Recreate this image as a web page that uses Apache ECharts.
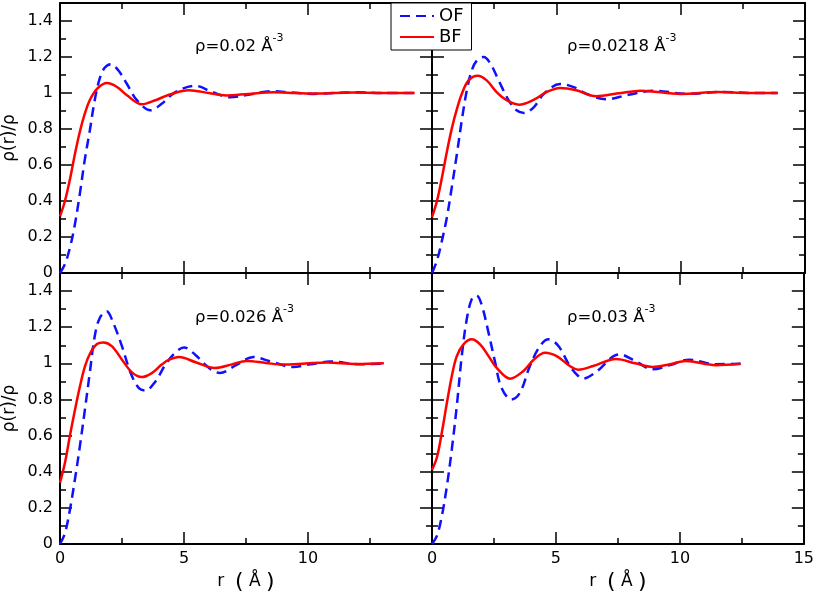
<!DOCTYPE html>
<html>
<head>
<meta charset="utf-8">
<script src="https://cdn.jsdelivr.net/npm/echarts@6/dist/echarts.min.js"></script>
<style>
html,body{margin:0;padding:0;background:#fff;}
#c{width:817px;height:599px;}
</style>
</head>
<body>
<div id="c"></div>
<script>
// ---- data (r in Å, rho(r)/rho) ----
// panel 1: rho = 0.02
const tlOF_r = [0, 0.2, 0.4, 0.6, 0.8, 1.0, 1.2, 1.4, 1.6, 1.8, 2.05, 2.35, 2.7, 3.1, 3.65, 4.1, 4.65, 5.45, 6.15, 6.85, 7.6, 8.5, 9.3, 10.2, 11.1, 12.0, 13.0, 14.3];
const tlOF_v = [0, 0.05, 0.14, 0.27, 0.44, 0.63, 0.79, 0.96, 1.08, 1.14, 1.16, 1.126, 1.05, 0.96, 0.904, 0.94, 1.005, 1.04, 1.005, 0.976, 0.99, 1.01, 1.003, 0.995, 1.0, 1.004, 1.0, 1.0];
const tlBF_r = [0, 0.2, 0.4, 0.6, 0.8, 1.0, 1.2, 1.5, 1.9, 2.3, 2.7, 3.3, 3.85, 4.4, 5.2, 6.0, 6.7, 7.6, 8.6, 9.5, 10.3, 11.8, 13.0, 14.3];
const tlBF_v = [0.315, 0.40, 0.52, 0.66, 0.785, 0.885, 0.96, 1.024, 1.055, 1.033, 0.987, 0.937, 0.96, 0.99, 1.015, 1.0, 0.986, 0.995, 1.004, 1.0, 0.997, 1.003, 1.0, 1.0];
// panel 2: rho = 0.0218
const trOF_r = [0, 0.2, 0.4, 0.6, 0.8, 1.0, 1.2, 1.4, 1.6, 1.8, 2.08, 2.35, 2.68, 3.08, 3.4, 3.7, 4.1, 4.5, 5.15, 5.7, 6.2, 7.0, 7.9, 8.9, 10.3, 11.7, 12.8, 13.9];
const trOF_v = [0, 0.07, 0.18, 0.31, 0.48, 0.66, 0.85, 1.015, 1.126, 1.18, 1.2, 1.163, 1.07, 0.96, 0.904, 0.889, 0.922, 0.996, 1.05, 1.033, 0.996, 0.965, 0.99, 1.013, 0.995, 1.006, 1.0, 1.0];
const trBF_r = [0, 0.2, 0.4, 0.6, 0.8, 1.0, 1.2, 1.47, 1.84, 2.2, 2.6, 3.0, 3.5, 4.1, 4.6, 5.15, 5.8, 6.6, 7.5, 8.4, 10.0, 11.5, 12.7, 13.9];
const trBF_v = [0.31, 0.40, 0.53, 0.675, 0.805, 0.91, 0.996, 1.07, 1.096, 1.07, 1.005, 0.96, 0.935, 0.963, 1.005, 1.028, 1.015, 0.982, 0.998, 1.013, 0.995, 1.005, 1.0, 1.0];
// panel 3: rho = 0.026
const blOF_r = [0, 0.2, 0.4, 0.6, 0.8, 1.0, 1.2, 1.4, 1.6, 1.88, 2.15, 2.5, 2.85, 3.18, 3.45, 3.85, 4.25, 4.65, 5.0, 5.45, 5.8, 6.15, 6.45, 7.1, 7.8, 8.5, 9.4, 10.1, 10.9, 12.1, 13.06];
const blOF_v = [0, 0.06, 0.19, 0.356, 0.54, 0.74, 0.946, 1.15, 1.25, 1.288, 1.223, 1.094, 0.946, 0.863, 0.85, 0.9, 0.993, 1.06, 1.088, 1.048, 1.0, 0.96, 0.947, 0.99, 1.035, 1.01, 0.98, 0.995, 1.01, 0.995, 0.998];
const blBF_r = [0, 0.2, 0.4, 0.6, 0.8, 1.0, 1.22, 1.49, 1.76, 2.1, 2.5, 2.9, 3.3, 3.7, 4.1, 4.4, 4.8, 5.47, 6.25, 6.9, 7.53, 8.3, 9.0, 9.9, 10.75, 11.96, 13.06];
const blBF_v = [0.34, 0.45, 0.6, 0.74, 0.87, 0.98, 1.057, 1.107, 1.116, 1.094, 1.02, 0.95, 0.924, 0.946, 0.993, 1.02, 1.035, 1.006, 0.974, 0.993, 1.013, 1.002, 0.993, 0.999, 1.005, 0.996, 1.0];
// panel 4: rho = 0.03
const brOF_r = [0, 0.2, 0.4, 0.6, 0.8, 1.0, 1.2, 1.4, 1.6, 1.8, 2.0, 2.28, 2.55, 2.8, 3.2, 3.55, 3.95, 4.36, 4.7, 5.1, 5.56, 5.9, 6.1, 6.6, 7.56, 8.2, 8.9, 9.6, 10.37, 11.45, 12.45];
const brOF_v = [0, 0.046, 0.157, 0.32, 0.525, 0.764, 1.04, 1.243, 1.354, 1.376, 1.326, 1.17, 1.004, 0.866, 0.8, 0.838, 0.985, 1.096, 1.133, 1.096, 0.985, 0.93, 0.916, 0.95, 1.05, 1.013, 0.967, 0.99, 1.02, 0.995, 0.998];
const brBF_r = [0, 0.2, 0.4, 0.6, 0.8, 1.0, 1.27, 1.6, 1.94, 2.28, 2.6, 3.15, 3.69, 4.1, 4.56, 5.03, 5.56, 5.9, 6.5, 7.43, 8.2, 8.9, 9.6, 10.24, 11.45, 12.45];
const brBF_v = [0.41, 0.48, 0.62, 0.78, 0.93, 1.04, 1.105, 1.133, 1.105, 1.04, 0.976, 0.915, 0.958, 1.02, 1.059, 1.04, 0.985, 0.965, 0.985, 1.024, 1.0, 0.98, 0.995, 1.013, 0.99, 0.998];

const seriesNames = ['OF', 'BF'];
const panelLabels = ['0.02', '0.0218', '0.026', '0.03'];
const xTicks = { min: 0, max: 15, interval: 5 };
const yTicks = { min: 0, max: 1.5, interval: 0.2, minorInterval: 0.1 };

const panels = [
  { of: [tlOF_r, tlOF_v], bf: [tlBF_r, tlBF_v] },
  { of: [trOF_r, trOF_v], bf: [trBF_r, trBF_v] },
  { of: [blOF_r, blOF_v], bf: [blBF_r, blBF_v] },
  { of: [brOF_r, brOF_v], bf: [brBF_r, brBF_v] }
];
const pair = (rs, vs) => rs.map((r, i) => [r, vs[i]]);

// ---- layout ----
const FONT = 'DejaVu Sans, Verdana, sans-serif';
const grids = [
  { left: 60, top: 3, width: 372, height: 270 },
  { left: 432, top: 3, width: 373, height: 270 },
  { left: 60, top: 273, width: 372, height: 271 },
  { left: 432, top: 273, width: 373, height: 271 }
];
const black = '#000';
const xAxes = [], yAxes = [], series = [];
grids.forEach((g, gi) => {
  const isBottom = gi >= 2, isLeft = gi % 2 === 0;
  ['bottom', 'top'].forEach(pos => {
    const showLab = pos === 'bottom' && isBottom;
    xAxes.push({
      type: 'value', gridIndex: gi, position: pos,
      min: xTicks.min, max: xTicks.max, interval: xTicks.interval,
      axisLine: { show: true, onZero: false, lineStyle: { color: black, width: 2 } },
      axisTick: { show: true, inside: true, length: 12, lineStyle: { color: black, width: 1.5 } },
      minorTick: { show: true, splitNumber: 2, length: 6, lineStyle: { color: black, width: 1.5 } },
      splitLine: { show: false }, minorSplitLine: { show: false },
      axisLabel: { show: showLab, showMaxLabel: gi === 3, color: black, fontSize: 16, fontFamily: FONT, margin: 7 },
      name: showLab ? '{a|r}{a|  }{b|(}{a| Å }{b|)}' : '', nameLocation: 'middle', nameGap: 26,
      nameTextStyle: {
        color: black, fontSize: 17, fontFamily: FONT,
        rich: {
          a: { fontSize: 17, fontFamily: FONT, color: black, lineHeight: 24, verticalAlign: 'middle' },
          b: { fontSize: 22, fontFamily: FONT, color: black, lineHeight: 24, verticalAlign: 'middle' }
        }
      }
    });
  });
  ['left', 'right'].forEach(pos => {
    const showLab = pos === 'left' && isLeft;
    yAxes.push({
      type: 'value', gridIndex: gi, position: pos,
      min: yTicks.min, max: yTicks.max, interval: yTicks.interval,
      axisLine: { show: true, onZero: false, lineStyle: { color: black, width: 2 } },
      axisTick: { show: true, inside: true, length: 12, lineStyle: { color: black, width: 1.5 } },
      splitLine: { show: false },
      axisLabel: { show: showLab, showMaxLabel: false, color: black, fontSize: 16, fontFamily: FONT, margin: 7 },
      name: showLab ? 'ρ(r)/ρ' : '', nameLocation: 'middle', nameGap: 42,
      nameTextStyle: { color: black, fontSize: 17, fontFamily: FONT }
    });
    yAxes.push({
      type: 'value', gridIndex: gi, position: pos,
      min: yTicks.min, max: yTicks.max, interval: yTicks.minorInterval,
      axisLine: { show: false, onZero: false },
      axisTick: { show: true, inside: true, length: 6, lineStyle: { color: black, width: 1.5 } },
      splitLine: { show: false }, axisLabel: { show: false }
    });
  });
  const p = panels[gi];
  series.push({
    name: seriesNames[0], type: 'line', xAxisIndex: gi * 2, yAxisIndex: gi * 4,
    data: pair(p.of[0], p.of[1]), smooth: 0.35, symbol: 'none',
    lineStyle: { color: '#1010ff', width: 2.5, type: [10, 6] }, itemStyle: { color: '#1010ff' }, z: 3
  });
  series.push({
    name: seriesNames[1], type: 'line', xAxisIndex: gi * 2, yAxisIndex: gi * 4,
    data: pair(p.bf[0], p.bf[1]), smooth: 0.35, symbol: 'none',
    lineStyle: { color: '#ff0000', width: 2.5 }, itemStyle: { color: '#ff0000' }, z: 4
  });
});

const titlePos = [
  { left: 195, top: 33 }, { left: 567, top: 33 },
  { left: 195, top: 304 }, { left: 567, top: 304 }
];
const titles = panelLabels.map((lab, i) => ({
  left: titlePos[i].left, top: titlePos[i].top, padding: 0,
  text: '{a|ρ=' + lab + ' Å}{s|-3}',
  textStyle: {
    fontWeight: 'normal',
    rich: {
      a: { fontSize: 16.5, fontFamily: FONT, fontWeight: 'normal', color: black, lineHeight: 22, verticalAlign: 'bottom' },
      s: { fontSize: 11, fontFamily: FONT, fontWeight: 'normal', color: black, lineHeight: 8, verticalAlign: 'top' }
    }
  }
}));

const chart = echarts.init(document.getElementById('c'), null, { renderer: 'canvas' });
chart.setOption({
  animation: false,
  backgroundColor: '#fff',
  title: titles,
  legend: {
    data: seriesNames, orient: 'vertical', left: 391, top: 3,
    backgroundColor: '#fff', borderColor: black, borderWidth: 1,
    padding: [4, 8, 4, 8], itemGap: 3, itemWidth: 34, itemHeight: 16,
    itemStyle: { opacity: 0 },
    textStyle: { color: black, fontSize: 18, fontFamily: FONT },
    selectedMode: false
  },
  grid: grids,
  xAxis: xAxes,
  yAxis: yAxes,
  series: series
});
</script>
</body>
</html>
